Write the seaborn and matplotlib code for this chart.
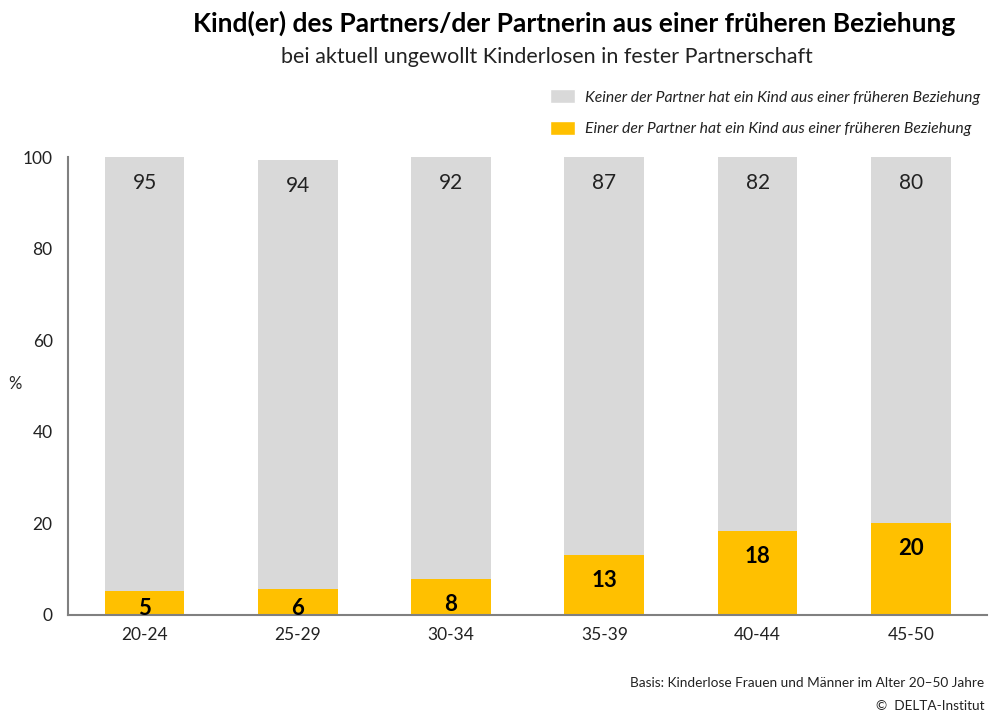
import pandas as pd
import numpy as np
import matplotlib
matplotlib.use('Agg')
import matplotlib.pyplot as plt
import seaborn as sns
from matplotlib.patches import Patch

# Daten
altersgruppen = ['20-24', '25-29', '30-34', '35-39', '40-44', '45-50']
keiner_werte = [95, 94, 92, 87, 82, 80]
einer_werte = [5, 6, 8, 13, 18, 20]
# Balkenhöhen
einer_hoehe = [5.2, 5.7, 7.9, 13.1, 18.3, 20.1]
gesamt_hoehe = [100, 99.4, 100, 100, 100, 100]

legende_keiner = 'Keiner der Partner hat ein Kind aus einer früheren Beziehung'
legende_einer = 'Einer der Partner hat ein Kind aus einer früheren Beziehung'

GRAU = '#D9D9D9'
GELB = '#FFC000'

sns.set_theme(style='white')
plt.rcParams['font.family'] = ['Lato', 'DejaVu Sans']

df = pd.DataFrame({'alter': altersgruppen, 'keiner': keiner_werte, 'einer': einer_werte,
                   'einer_h': einer_hoehe, 'gesamt_h': gesamt_hoehe})

fig = plt.figure(figsize=(9.94, 7.15), dpi=100)
ax = fig.add_axes([0.0684, 0.14, 0.925, 0.64])

# Gestapelte Balken: zuerst Gesamt (grau), dann gelber Anteil darüber
sns.barplot(data=df, x='alter', y='gesamt_h', color=GRAU, width=0.52, ax=ax, saturation=1,
            linewidth=0, edgecolor='none')
sns.barplot(data=df, x='alter', y='einer_h', color=GELB, width=0.52, ax=ax, saturation=1,
            linewidth=0, edgecolor='none')

# Beschriftungen der Balken
for i, row in df.iterrows():
    ax.text(i, row['gesamt_h'] - 5.6, str(row['keiner']), ha='center', va='center',
            fontsize=15, color='#222222')
    ax.text(i, max(row['einer_h'] - 5.6, 1.5), str(row['einer']), ha='center', va='center',
            fontsize=16, fontweight='bold', color='black')

# Achsen
ax.set_ylim(0, 100)
ax.set_xlim(-0.5, len(altersgruppen) - 0.5)
ax.set_yticks([0, 20, 40, 60, 80, 100])
ax.set_xlabel('')
ax.set_ylabel('%', rotation=0, fontsize=12, va='center')
ax.yaxis.set_label_coords(-0.058, 0.505)
ax.set_xticks(range(len(altersgruppen)))
ax.set_xticklabels(altersgruppen)
ax.set_xticks(np.arange(-0.5, len(altersgruppen)), minor=True)
ax.tick_params(axis='x', which='major', length=0, pad=9, labelsize=12.5, labelcolor='#222222')
ax.tick_params(axis='x', which='minor', length=6, width=1.2, color='#808080', direction='out')
ax.tick_params(axis='y', length=6, width=1.2, color='#808080', direction='out', pad=5,
               labelsize=12.5, labelcolor='#222222')
for s in ['top', 'right']:
    ax.spines[s].set_visible(False)
for s in ['left', 'bottom']:
    ax.spines[s].set_color('#808080')
    ax.spines[s].set_linewidth(1.5)

# Titel
fig.text(0.578, 0.967, 'Kind(er) des Partners/der Partnerin aus einer früheren Beziehung',
         ha='center', va='center', fontsize=19, fontweight='bold', color='black')
fig.text(0.55, 0.92, 'bei aktuell ungewollt Kinderlosen in fester Partnerschaft',
         ha='center', va='center', fontsize=15.5, color='#222222')

# Legende
handles = [Patch(facecolor=GRAU, label=legende_keiner), Patch(facecolor=GELB, label=legende_einer)]
leg = fig.legend(handles=handles, loc='upper right', bbox_to_anchor=(1.0, 0.895), frameon=False,
                 prop={'style': 'italic', 'size': 11.3}, handlelength=1.6, handleheight=1.0,
                 labelspacing=1.05, handletextpad=0.6)
for t in leg.get_texts():
    t.set_color('#222222')

# Fußnoten
fig.text(0.99, 0.045, 'Basis: Kinderlose Frauen und Männer im Alter 20–50 Jahre',
         ha='right', va='center', fontsize=9.8, color='#222222')
fig.text(0.99, 0.013, '©  DELTA-Institut', ha='right', va='center', fontsize=9.8, color='#222222')

fig.savefig('out.png', dpi=100)
